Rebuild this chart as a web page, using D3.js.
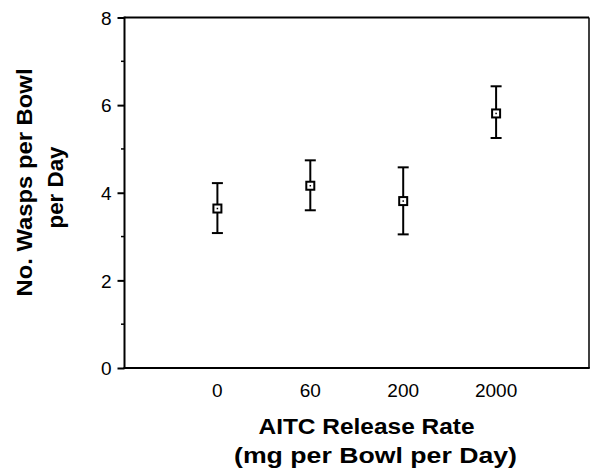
<!DOCTYPE html>
<html lang="en">
<head>
    <meta charset="UTF-8">
    <title>Wasps per bowl</title>
    <script src="https://cdn.jsdelivr.net/npm/d3@7/dist/d3.min.js"></script>
    <style>
        * { margin: 0; }
        body { background: #fff; }
        svg text { font-family: "Liberation Sans", Arial, Helvetica, sans-serif; fill: #000; }
    </style>
</head>
<body>
    <div id="chart"></div>
    <script>
        // release rates (mg per bowl per day)
        var categories = ["0", "60", "200", "2000"];
        // mean wasps per bowl per day, with error bar ends
        var means = [3.64, 4.16, 3.81, 5.81];
        var upper = [4.22, 4.74, 4.58, 6.43];
        var lower = [3.08, 3.60, 3.05, 5.25];
        var yTicks = [0, 2, 4, 6, 8];
        var yMinor = [1, 3, 5, 7];

        var w = 595, h = 470;
        // plot edges (note: "top" is taken by window.top)
        var pLeft = 124.5, pRight = 589, pTop = 17.5, pBottom = 368;

        var svg = d3.select("#chart").append("svg")
            .attr("width", w)
            .attr("height", h);

        // categories sit at 1..4 on a 0..5 axis
        var x = d3.scaleLinear().domain([0, categories.length + 1]).range([pLeft, pRight]);
        var y = d3.scaleLinear().domain([0, 8]).range([pBottom, pTop]);

        // frame
        svg.append("line").attr("x1", pLeft).attr("x2", pRight).attr("y1", pTop).attr("y2", pTop)
            .attr("stroke", "#000").attr("stroke-width", 2);
        svg.append("line").attr("x1", pRight).attr("x2", pRight).attr("y1", pTop).attr("y2", pBottom)
            .attr("stroke", "#000").attr("stroke-width", 1.5);
        svg.append("line").attr("x1", pLeft - 1).attr("x2", pRight + 0.75).attr("y1", pBottom).attr("y2", pBottom)
            .attr("stroke", "#000").attr("stroke-width", 2);

        // y axis
        var yAxis = svg.append("g")
            .attr("transform", "translate(" + pLeft + ",0)")
            .call(d3.axisLeft(y).tickValues(yTicks).tickSize(7).tickPadding(6).tickFormat(d3.format("d")));
        yAxis.select(".domain").attr("stroke-width", 2).attr("d", "M0," + (pTop - 1) + "V" + (pBottom + 1));
        yAxis.selectAll(".tick line").attr("stroke-width", 2);
        yAxis.selectAll(".tick text").attr("font-size", 19).attr("dy", "0.36em");
        yAxis.selectAll(".minor").data(yMinor).enter().append("line")
            .attr("class", "minor")
            .attr("x1", -3.5).attr("x2", 0)
            .attr("y1", function (d) { return y(d); })
            .attr("y2", function (d) { return y(d); })
            .attr("stroke", "#000").attr("stroke-width", 1.5);

        // x labels, no tick marks
        svg.selectAll(".xlab").data(categories).enter().append("text")
            .attr("class", "xlab")
            .attr("x", function (d, i) { return x(i + 1); })
            .attr("y", 397)
            .attr("text-anchor", "middle")
            .attr("font-size", 19)
            .text(function (d) { return d; });

        // error bars
        var pts = svg.selectAll("g.pt").data(categories).enter().append("g")
            .attr("class", "pt")
            .attr("transform", function (d, i) { return "translate(" + x(i + 1) + ",0)"; });

        pts.append("line")
            .attr("y1", function (d, i) { return y(upper[i]); })
            .attr("y2", function (d, i) { return y(lower[i]); })
            .attr("stroke", "#000").attr("stroke-width", 2);
        pts.append("line")
            .attr("x1", -5.5).attr("x2", 5.5)
            .attr("y1", function (d, i) { return y(upper[i]); })
            .attr("y2", function (d, i) { return y(upper[i]); })
            .attr("stroke", "#000").attr("stroke-width", 2);
        pts.append("line")
            .attr("x1", -5.5).attr("x2", 5.5)
            .attr("y1", function (d, i) { return y(lower[i]); })
            .attr("y2", function (d, i) { return y(lower[i]); })
            .attr("stroke", "#000").attr("stroke-width", 2);

        // square markers with a dot in the middle
        pts.append("rect")
            .attr("x", -4).attr("width", 8).attr("height", 8)
            .attr("y", function (d, i) { return y(means[i]) - 4; })
            .attr("fill", "#fff").attr("stroke", "#000").attr("stroke-width", 2);
        pts.append("rect")
            .attr("x", -0.75).attr("width", 1.5).attr("height", 1.5)
            .attr("y", function (d, i) { return y(means[i]) - 0.75; })
            .attr("fill", "#000");

        // axis titles, stretched to the width of the original lettering
        function title(txt, tx, ty, len, rot) {
            return svg.append("text")
                .attr("transform", "translate(" + tx + "," + ty + ")" + (rot ? " rotate(-90)" : ""))
                .attr("font-size", 22)
                .attr("font-weight", "bold")
                .attr("textLength", len)
                .attr("lengthAdjust", "spacingAndGlyphs")
                .text(txt);
        }
        title("AITC Release Rate", 258.5, 434, 216);
        title("(mg per Bowl per Day)", 234, 463, 283);
        title("No. Wasps per Bowl", 32, 296.5, 228, true);
        title("per Day", 63, 228.5, 82, true);
    </script>
</body>
</html>
